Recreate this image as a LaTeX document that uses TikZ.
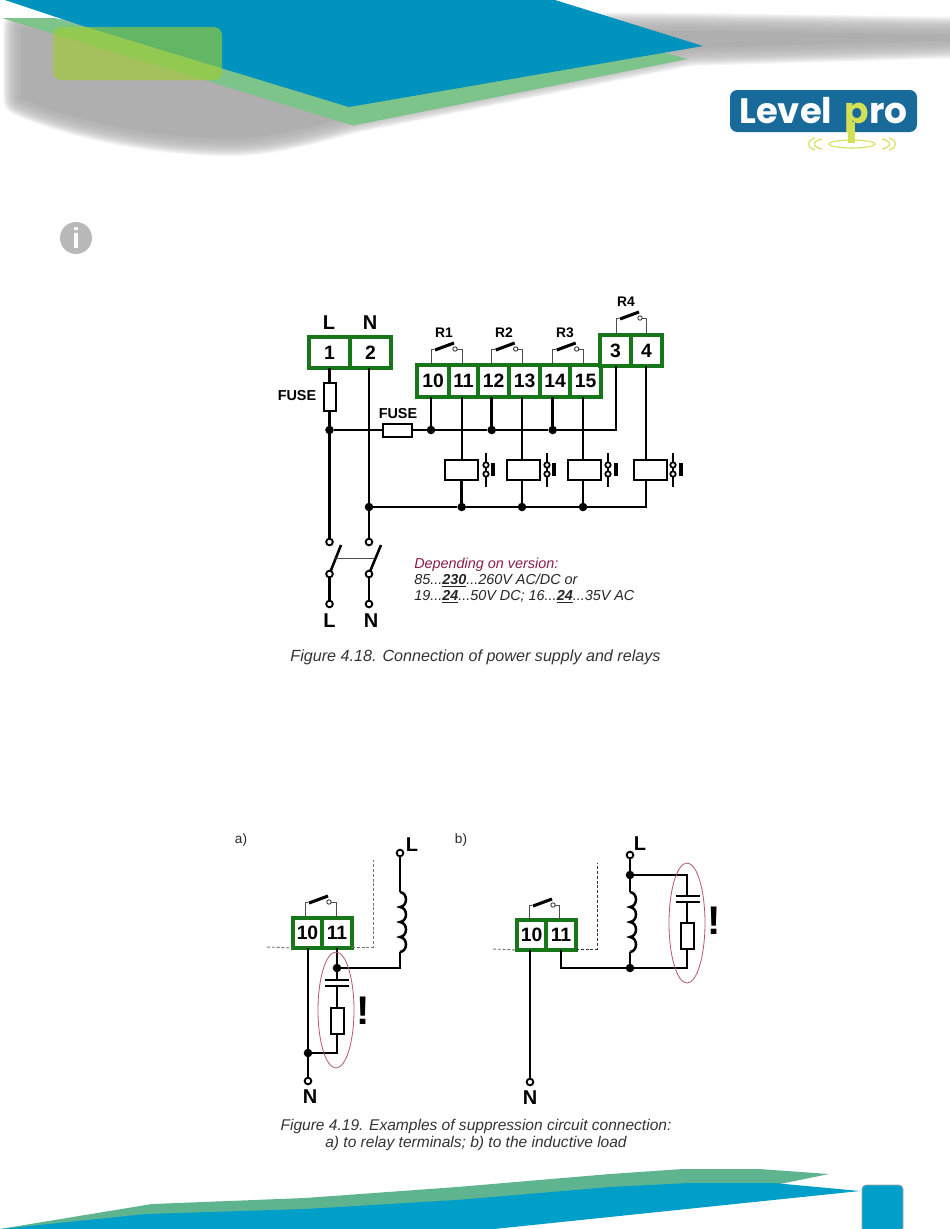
\documentclass[tikz,border=0pt]{standalone}
\usepackage{fontspec}
\setmainfont{Liberation Sans}
\newfontfamily\logofont{Poppins}[UprightFont=* Bold]
\usetikzlibrary{calc}
\definecolor{hblue}{HTML}{0093BD}
\definecolor{hgreen}{HTML}{7CC48A}
\definecolor{hgray}{HTML}{AFAFAF}
\definecolor{fblue}{HTML}{009FC9}
\definecolor{fgreen}{HTML}{5FB490}
\definecolor{tgreen}{HTML}{17761A}
\definecolor{logoblue}{HTML}{186A9A}
\definecolor{logoyel}{HTML}{D3DF55}
\definecolor{maroon}{HTML}{8A1C4C}
\definecolor{ringred}{HTML}{B5566E}
\definecolor{icongray}{HTML}{B9B9B9}
\tikzset{
  x=0.75pt,y=-0.75pt,
  cell/.style 2 args={draw=tgreen,line width=2.4pt,fill=white,rectangle,inner sep=0pt,outer sep=0pt,
     minimum width=#1*0.75pt,minimum height=#2*0.75pt,font=\fontsize{14.5}{16}\bfseries\selectfont},
  sym/.style 2 args={draw=black,line width=1.5pt,fill=white,rectangle,inner sep=0pt,outer sep=0pt,
     minimum width=#1*0.75pt,minimum height=#2*0.75pt},
  wire/.style={draw=black,line width=1.9pt},
  bus/.style={draw=black,line width=1.6pt},
  thinw/.style={draw=black!70,line width=0.75pt},
  jdot/.style={circle,fill=black,inner sep=0pt,outer sep=0pt,minimum size=6.4pt},
  pin/.style={circle,draw=black,fill=white,line width=1.4pt,inner sep=0pt,outer sep=0pt,minimum size=5pt},
  lab/.style={font=\fontsize{15}{16}\bfseries\selectfont,inner sep=0pt},
  fuselab/.style={font=\fontsize{10.8}{12}\bfseries\selectfont,inner sep=0pt},
  rlab/.style={font=\fontsize{10.4}{12}\bfseries\selectfont,inner sep=0pt},
  note/.style={font=\fontsize{10.8}{12}\itshape\selectfont,inner sep=0pt,anchor=west},
  caption/.style={font=\fontsize{12.1}{13}\itshape\selectfont,inner sep=0pt,text=black!80},
  captionb/.style={font=\fontsize{11.65}{13}\itshape\selectfont,inner sep=0pt,text=black!80},
  plain/.style={font=\fontsize{10.2}{12}\selectfont,inner sep=0pt,text=black!85},
  bang/.style={font=\fontsize{30}{30}\bfseries\selectfont,inner sep=0pt},
  dashedg/.style={draw=black!55,line width=0.7pt,dash pattern=on 2.2pt off 1.4pt},
  ring/.style={draw=ringred,line width=0.6pt},
  thickslash/.style={draw=black,line width=2.3pt},
}
% relay output contact: left x, right x, terminal y, bracket y
\newcommand{\outcontact}[4]{%
  \draw[thinw] (#1,#3) -- (#1,#4) -- (#1+3,#4);
  \draw[thinw] (#1+26,#4) -- (#2,#4) -- (#2,#3);
  \draw[thickslash] (#1+4,#4+1) -- (#1+23,#4-6);
  \draw[black!80,line width=0.65pt,fill=white] (#1+24,#4) circle (2.2);
}
% auxiliary contact drawn by a relay coil
\newcommand{\auxcontact}[2]{%
  \draw[wire] (#1,453) -- (#1,462.5) (#1,467.5) -- (#1,471.5) (#1,476.5) -- (#1,487);
  \draw[black,line width=1.3pt,fill=white] (#1,465) circle (2.7) (#1,474) circle (2.7);
  \draw[black,line width=2.4pt] (#2,463) -- (#2,476);
}
% inductor from lower point going up, four bumps of 15 px
\newcommand{\coil}[2]{%
  \draw[wire] (#1,#2) \foreach \k in {0,1,2,3} {
     .. controls (#1+8,#2-15*\k-1) and (#1+8,#2-15*\k-14) .. (#1,#2-15*\k-15)};
}
\begin{document}
\begin{tikzpicture}
\useasboundingbox (0,0) rectangle (950,1229);
\fill[white] (0,0) rectangle (950,1229);

% ---- header shadow
\def\shadowpath{(21,28) -- (21,98) .. controls (80,124) and (170,140) .. (240,138)
   .. controls (280,136) and (320,124) .. (350,116) -- (500,86) -- (690,48) -- (970,40) -- (970,35) -- (700,31) -- (300,28) -- cycle}
\begin{scope}
\clip (0,19) -- (100,19) -- (100,0) -- (950,0) -- (950,200) -- (0,200) -- cycle;
\foreach \w in {36,34.5,33,31.5,30,28.5,27,25.5,24,22.5,21,19.5,18,16.5,15,13.5,12,10.5,9,7.5,6,4.5,3,1.5}{
  \draw[hgray,opacity=.085,line join=round,line width=\w*0.75pt] \shadowpath;
}
\fill[hgray] \shadowpath;
\end{scope}
% ---- header bands
\fill[hgreen] (2,18) -- (55,18) -- (100,31) -- (349,107) -- (662,52) -- (688,59) -- (353,125.5) -- cycle;
\fill[hblue] (5,0) -- (83,26) -- (349,107) -- (703,46) -- (555,0) -- cycle;
\fill[rounded corners=6pt,fill={rgb,255:red,160;green,205;blue,45},opacity=.62] (53,27) rectangle (222,80);

% ---- logo
\fill[logoblue,rounded corners=5.5pt] (730,90) rectangle (917,132);
\node[anchor=base west,inner sep=0pt,text=white,font=\logofont\fontsize{26.5}{28}\selectfont] (logoa) at (739,123) {Level};
\node[anchor=base west,inner sep=0pt,text=logoyel,font=\logofont\fontsize{27}{28}\selectfont] (logob) at (844.5,123) {p};
\node[anchor=base west,inner sep=0pt,text=white,font=\logofont\fontsize{27}{28}\selectfont] (logoc) at (869,123) {ro};
\fill[logoyel] (848,122) rectangle (855,143);
\draw[logoyel,line width=.8pt] (852,144) ellipse [x radius=23,y radius=4];
\draw[logoyel,line width=.8pt] (822,139) .. controls (812,141) and (812,147) .. (822,149)
   (815,138) .. controls (806,141) and (806,147) .. (815,150)
   (882,139) .. controls (892,141) and (892,147) .. (882,149)
   (889,138) .. controls (898,141) and (898,147) .. (889,150);

% ---- info icon
\node[circle,fill=icongray,inner sep=0pt,minimum size=24pt,text=white,font=\fontsize{21.5}{22}\bfseries\selectfont] (info) at (76,238) {i};

% ================ Figure 4.18
\node[cell={41}{31}] (t1) at (329.5,352.5) {1};
\node[cell={41}{31}] (t2) at (370.5,352.5) {2};
\node[lab] (lL) at (329,323) {L};
\node[lab] (lN) at (370,323) {N};
\node[cell={32}{32}] (t10) at (433,381) {10};
\node[cell={29}{32}] (t11) at (463.5,381) {11};
\node[cell={31}{32}] (t12) at (493.5,381) {12};
\node[cell={31}{32}] (t13) at (524.5,381) {13};
\node[cell={30}{32}] (t14) at (555,381) {14};
\node[cell={31}{32}] (t15) at (585.5,381) {15};
\node[cell={31}{31}] (t3) at (615.5,350.5) {3};
\node[cell={31}{31}] (t4) at (646.5,350.5) {4};

\node[sym={12}{28}] (fuse1) at (329.5,397) {};
\node[sym={29}{13}] (fuse2) at (397.5,430) {};
\node[fuselab] (fl1) at (297,396) {FUSE};
\node[fuselab] (fl2) at (398,414) {FUSE};

\node[jdot] (dA) at (329.5,430) {};
\node[jdot] (dB) at (431,430) {};
\node[jdot] (dC) at (491.7,430) {};
\node[jdot] (dD) at (552.7,430) {};
\node[jdot] (dN) at (369,507) {};
\node[jdot] (dE) at (461.7,507) {};
\node[jdot] (dF) at (522,507) {};
\node[jdot] (dG) at (583,507) {};

\node[sym={33}{20}] (k1) at (461.7,470) {};
\node[sym={33}{20}] (k2) at (523.5,470) {};
\node[sym={33}{20}] (k3) at (584.5,470) {};
\node[sym={33}{20}] (k4) at (650.5,470) {};

\coordinate (p10) at (431,397);
\coordinate (p11) at (461.7,397);
\coordinate (p12) at (491.7,397);
\coordinate (p13) at (522,397);
\coordinate (p14) at (552.7,397);
\coordinate (p15) at (583,397);
\coordinate (p3) at (616,366);
\coordinate (p4) at (646,366);
\coordinate (p2) at (369,368);
\coordinate (busend) at (616,430);
\coordinate (nend) at (646,507);

\node[pin] (sLa) at (329.5,542) {};
\node[pin] (sLb) at (329.5,574) {};
\node[pin] (sLc) at (329.5,604) {};
\node[pin] (sNa) at (369,542) {};
\node[pin] (sNb) at (369,574) {};
\node[pin] (sNc) at (369,604) {};
\coordinate (sLt) at (341,545);
\coordinate (sNt) at (381,545);
\coordinate (gL) at (335,558);
\coordinate (gN) at (374,558);
\node[lab] (lL2) at (329.5,621) {L};
\node[lab] (lN2) at (371,621) {N};

% wires
\draw[wire] (t1.south) -- (fuse1.north);
\draw[wire] (fuse1.south) -- (dA) -- (sLa);
\draw[wire] (p2) -- (sNa);
\draw[bus] (dA) -- (fuse2.west);
\draw[bus] (fuse2.east) -- (dB) -- (dC) -- (dD) -- (busend) -- (p3);
\draw[wire] (p10) -- (dB);
\draw[wire] (p12) -- (dC);
\draw[wire] (p14) -- (dD);
\draw[bus] (p11) -- (k1.north);
\draw[wire] (p13) -- (p13 |- k2.north);
\draw[bus] (p15) -- (p15 |- k3.north);
\draw[bus] (p4) -- (p4 |- k4.north);
\draw[wire] (k1.south) -- (dE);
\draw[wire] (k2.south -| p13) -- (dF);
\draw[wire] (k3.south -| p15) -- (dG);
\draw[bus] (k4.south -| p4) -- (nend) -- (dG) -- (dF) -- (dE) -- (dN);
\draw[thickslash,line width=1.9pt] (sLb) -- (sLt);
\draw[thickslash,line width=1.9pt] (sNb) -- (sNt);
\draw[thinw] (gL) -- (gN);
\draw[wire] (sLb) -- (sLc);
\draw[wire] (sNb) -- (sNc);

\outcontact{431}{462}{365}{349}
\outcontact{491.7}{522}{365}{349}
\outcontact{552.7}{583}{365}{349}
\outcontact{616}{646}{335}{318}
\node[rlab] (r1) at (444,333) {R1};
\node[rlab] (r2) at (504,333) {R2};
\node[rlab] (r3) at (565,333) {R3};
\node[rlab] (r4) at (626,302) {R4};
\auxcontact{486}{493}
\auxcontact{547}{554}
\auxcontact{608}{616}
\auxcontact{673}{681}

\node[note,text=maroon] (n1) at (414,564.5) {Depending on version:};
\node[note,text=black!85] (n2) at (414,580.5) {85...\underline{\textbf{230}}...260V AC/DC or};
\node[note,text=black!85] (n3) at (414,596.5) {19...\underline{\textbf{24}}...50V DC; 16...\underline{\textbf{24}}...35V AC};
\node[caption] (c1) at (475.5,657.5) {Figure 4.18. Connection of power supply and relays};

% ================ Figure 4.19 a)
\node[plain] (la) at (241,840) {a)};
\node[cell={29}{30}] (a10) at (307.5,933) {10};
\node[cell={30}{30}] (a11) at (337,933) {11};
\coordinate (ap10) at (308,948);
\coordinate (ap11) at (337,948);
\node[jdot] (aJ1) at (337,968) {};
\node[jdot] (aJ2) at (308,1053) {};
\node[pin] (aN) at (308,1081) {};
\node[pin] (aL) at (400,853) {};
\node[lab] (aNl) at (310,1097) {N};
\node[lab] (aLl) at (412,845) {L};
\node[sym={13}{26}] (aR) at (337,1021) {};
\coordinate (aC1) at (337,980);
\coordinate (aC2) at (337,986);
\coordinate (aC1l) at (325,980);
\coordinate (aC1r) at (349,980);
\coordinate (aC2l) at (325,986);
\coordinate (aC2r) at (349,986);
\coordinate (aLc1) at (400,952);
\coordinate (aLc2) at (400,892);
\coordinate (aLk) at (400,968);
\coordinate (aRk) at (337,1053);
\draw[dashedg] (267,947) -- (a10.south west);
\draw[dashedg] (a11.south east) ++(0,-1) -- (373,947) -- (373,860);
\draw[wire] (ap10) -- (aJ2) -- (aN);
\draw[wire] (ap11) -- (aJ1) -- (aC1);
\draw[wire] (aJ1) -- (aLk) -- (aLc1);
\draw[wire] (aL) -- (aLc2);
\coil{400}{952}
\draw[wire] (aC1l) -- (aC1r);
\draw[wire] (aC2l) -- (aC2r);
\draw[wire] (aC2) -- (aR.north);
\draw[wire] (aR.south) -- (aRk) -- (aJ2);
\draw[ring] (336,1010) ellipse [x radius=18,y radius=58];
\outcontact{305}{336}{918}{902}
\node[bang] (ab) at (363,1011) {!};
% ================ Figure 4.19 b)
\node[plain] (lb) at (461,840) {b)};
\node[cell={29}{30}] (b10) at (531.5,935) {10};
\node[cell={30}{30}] (b11) at (561,935) {11};
\coordinate (bp10) at (530,950);
\coordinate (bp11) at (561,950);
\node[jdot] (bJ1) at (630,875) {};
\node[jdot] (bJ2) at (630,968) {};
\node[pin] (bL) at (630,855) {};
\node[pin] (bN) at (530,1082) {};
\node[lab] (bNl) at (530,1098) {N};
\node[lab] (bLl) at (640,844) {L};
\node[sym={13}{26}] (bR) at (687,936) {};
\coordinate (bbk1) at (561,968);
\coordinate (bbk2) at (687,968);
\coordinate (bTk) at (687,875);
\coordinate (bC1) at (687,896);
\coordinate (bC2) at (687,902);
\coordinate (bC1l) at (676,896);
\coordinate (bC1r) at (700,896);
\coordinate (bC2l) at (676,902);
\coordinate (bC2r) at (700,902);
\coordinate (bLc1) at (630,952);
\coordinate (bLc2) at (630,892);
\draw[dashedg] (493,949) -- (b10.south west);
\draw[dashedg,black!80] (b11.south east) ++(0,-1) -- (597,949) -- (597,863);
\draw[wire] (bp10) -- (bN);
\draw[wire] (bp11) -- (bbk1) -- (bJ2) -- (bbk2) -- (bR.south);
\draw[wire] (bL) -- (bJ1) -- (bLc2);
\draw[wire] (bJ2) -- (bLc1);
\coil{630}{952}
\draw[bus] (bJ1) -- (bTk) -- (bC1);
\draw[wire] (bC1l) -- (bC1r);
\draw[wire] (bC2l) -- (bC2r);
\draw[wire] (bC2) -- (bR.north);
\draw[ring] (687,923) ellipse [x radius=18,y radius=60];
\outcontact{529}{559}{920}{905}
\node[bang] (bb) at (714,921) {!};
\node[captionb] (c2) at (476,1126) {Figure 4.19. Examples of suppression circuit connection:};
\node[captionb] (c3) at (476,1143) {a) to relay terminals; b) to the inductive load};

% ---- footer
\fill[fgreen] (0,1229) -- (152,1204) -- (305,1198) -- (457,1187) -- (610,1174) -- (683,1169) -- (759,1169) -- (829,1174) -- (770,1186) -- (300,1215) -- cycle;
\fill[fblue] (0,1229) -- (146,1214) -- (305,1209) -- (457,1200) -- (610,1187) -- (689,1183) -- (774,1183) -- (860,1191) -- (494,1229) -- cycle;
\fill[fblue,draw=black!35,line width=.5pt,rounded corners=3pt] (862,1232) -- (862,1185) -- (903,1185) -- (903,1232) -- cycle;
\end{tikzpicture}
\end{document}
